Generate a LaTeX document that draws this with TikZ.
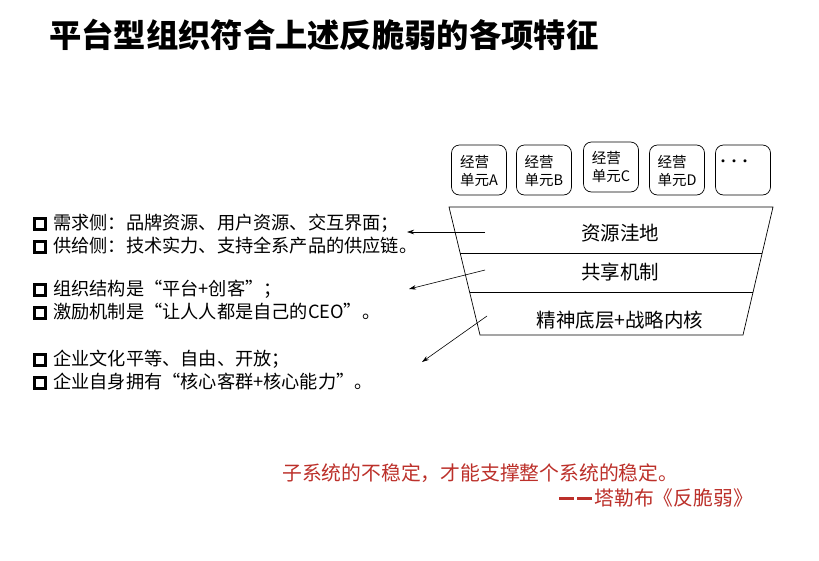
\documentclass[tikz,border=0pt]{standalone}
\usepackage{fontspec}
\setmainfont{Noto Sans CJK SC}
\usetikzlibrary{calc,arrows.meta}
\definecolor{quotered}{RGB}{188,48,42}
\newcommand\qdash{\rule[6pt]{15pt}{2.6pt}\hspace{3pt}\rule[6pt]{15pt}{2.6pt}\hspace{2pt}}
\begin{document}
\begin{tikzpicture}[x=1pt,y=-1pt,
  unitbox/.style={draw,rounded corners=8pt,line width=0.7pt,minimum width=55pt,minimum height=50pt},
  unittext/.style={font=\fontsize{14.5}{18.5}\selectfont,align=left,inner sep=0pt},
  layertext/.style={font=\fontsize{19.5}{22}\selectfont,inner sep=0pt},
  bulletsq/.style={draw,line width=3pt,minimum size=11pt,inner sep=0pt},
  bullettext/.style={font=\fontsize{18.2}{20}\selectfont,anchor=west,inner sep=0pt},
  quotetext/.style={font=\fontsize{19.8}{22}\selectfont,text=quotered,inner sep=0pt},
  pointer/.style={-{Stealth[length=7pt,width=4.5pt]},line width=0.6pt}]
\useasboundingbox[fill=white] (0,0) rectangle (819,560);
% title
\node[anchor=west,inner sep=0pt,font=\fontsize{32.3}{34}\selectfont\bfseries] (title) at (49,35) {平台型组织符合上述反脆弱的各项特征};
% unit boxes
\node[unitbox] (ua) at (479,170) {};
\node[unitbox] (ub) at (544,170) {};
\node[unitbox] (uc) at (611,167) {};
\node[unitbox] (ud) at (677,170) {};
\node[unitbox] (ue) at (743,170) {};
\node[unittext] (ta) at (479,171) {经营\\单元A};
\node[unittext] (tb) at (544,171) {经营\\单元B};
\node[unittext] (tc) at (611,167) {经营\\单元C};
\node[unittext] (td) at (677,171) {经营\\单元D};
\node[inner sep=0pt,font=\fontsize{11}{12}\selectfont\bfseries] (te) at (734,163) {•••};
% trapezoid
\coordinate (tl) at (449,207);
\coordinate (tr) at (773,207);
\coordinate (bl) at (480,335);
\coordinate (br) at (743,335);
\draw[line width=0.7pt] (tl) -- (tr) -- (br) -- (bl) -- cycle;
\draw[line width=0.7pt] ($(tl)!0.36!(bl)$) -- ($(tr)!0.36!(br)$);
\draw[line width=0.7pt] ($(tl)!0.664!(bl)$) -- ($(tr)!0.664!(br)$);
\node[layertext] (l1) at (620,233) {资源洼地};
\node[layertext] (l2) at (620,272) {共享机制};
\node[layertext] (l3) at (620,320) {精神底层+战略内核};
% left texts
\node[bulletsq] (q1) at (39.5,224) {};
\node[bulletsq] (q2) at (39.5,247) {};
\node[bulletsq] (q3) at (39.5,290) {};
\node[bulletsq] (q4) at (39.5,313) {};
\node[bulletsq] (q5) at (39.5,360) {};
\node[bulletsq] (q6) at (39.5,383) {};
\node[bullettext] (b1) at (53,223) {需求侧：品牌资源、用户资源、交互界面；};
\node[bullettext] (b2) at (53,246) {供给侧：技术实力、支持全系产品的供应链。};
\node[bullettext] (b3) at (53,289) {组织结构是“平台+创客”；};
\node[bullettext] (b4) at (53,312) {激励机制是“让人人都是自己的CEO”。};
\node[bullettext] (b5) at (53,359) {企业文化平等、自由、开放；};
\node[bullettext] (b6) at (53,382) {企业自身拥有“核心客群+核心能力”。};
% arrows
\coordinate (s1) at (485,232);
\coordinate (e1) at (407,232);
\coordinate (s2) at (485,270);
\coordinate (e2) at (409,289);
\coordinate (s3) at (487,316);
\coordinate (e3) at (422,362);
\draw[pointer] (s1) -- (e1);
\draw[pointer] (s2) -- (e2);
\draw[pointer] (s3) -- (e3);
% quote
\node[quotetext,anchor=west] (qa) at (282,473) {子系统的不稳定，才能支撑整个系统的稳定。};
\node[quotetext,anchor=east] (qb) at (753,498) {\color{quotered}\qdash 塔勒布《反脆弱》};
\end{tikzpicture}
\end{document}
